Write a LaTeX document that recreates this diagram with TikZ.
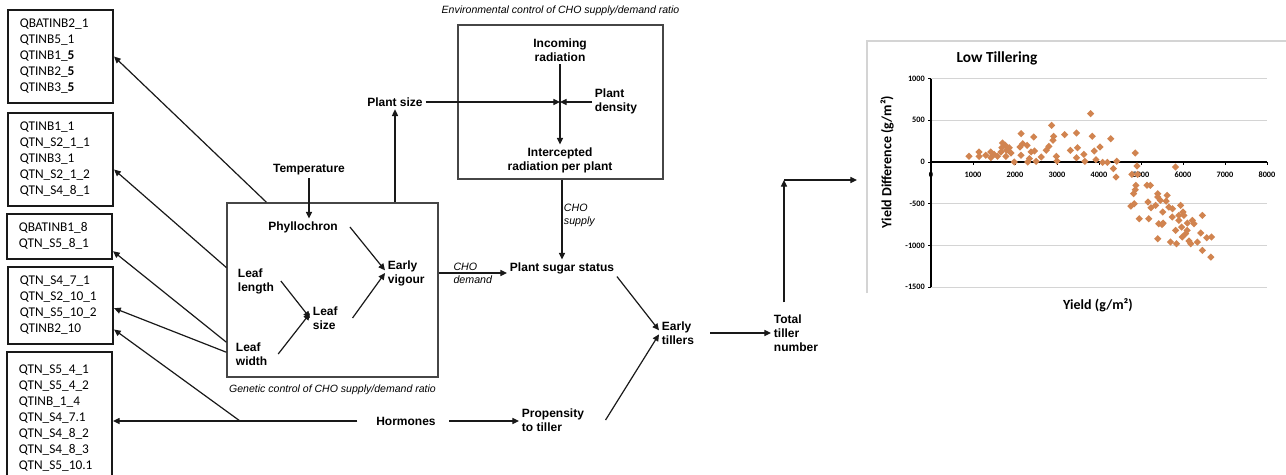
\documentclass[tikz,border=0pt]{standalone}
\usepackage{fontspec}
\setmainfont{Liberation Sans}
\newfontfamily\calibri{Carlito}
\usetikzlibrary{arrows.meta,positioning,shapes.geometric}
\definecolor{ink}{RGB}{25,25,25}
\definecolor{frame}{RGB}{70,70,70}
\definecolor{dotorange}{RGB}{209,132,80}
\definecolor{gridgray}{RGB}{212,212,212}
\tikzset{
  >={Triangle[length=5pt,width=4.6pt]},
  flow/.style={->,line width=0.9pt,draw=ink},
  qtl/.style={draw=ink,line width=1.3pt,anchor=north west,align=left,
    text width=61pt,inner xsep=9pt,inner ysep=5pt,
    font=\calibri\fontsize{10}{12}\selectfont,
    execute at begin node=\strut,execute at end node=\strut},
  panel/.style={draw=frame,line width=1.1pt},
  lbl/.style={font=\fontsize{9}{10.5}\selectfont\bfseries,inner sep=2pt,align=#1},
  lbl/.default=center,
  note/.style={font=\fontsize{8}{9.75}\selectfont\itshape,align=left,inner sep=1pt},
  capline/.style={font=\fontsize{7.9}{9}\selectfont\itshape,inner sep=1pt},
  dpt/.style={diamond,fill=dotorange,inner sep=0pt,minimum size=5.6pt},
  ticklbl/.style={font=\calibri\fontsize{6.2}{7}\selectfont\bfseries,inner sep=1pt},
  axlbl/.style={font=\calibri\fontsize{10.5}{12}\selectfont\bfseries},
}

\begin{document}
\begin{tikzpicture}[x=0.75pt,y=-0.75pt]
  \useasboundingbox (0,0) rectangle (1286,475);
  % QTL lists
  \node[qtl] (q1) at (7,9) {QBATINB2\_1\\QTINB5\_1\\QTINB1\_\textbf{5}\\QTINB2\_\textbf{5}\\QTINB3\_\textbf{5}};
  \node[qtl] (q2) at (7,112) {QTINB1\_1\\QTN\_S2\_1\_1\\QTINB3\_1\\QTN\_S2\_1\_2\\QTN\_S4\_8\_1};
  \node[qtl] (q3) at (6,213) {QBATINB1\_8\\QTN\_S5\_8\_1};
  \node[qtl] (q4) at (7,266) {QTN\_S4\_7\_1\\QTN\_S2\_10\_1\\QTN\_S5\_10\_2\\QTINB2\_10};
  \node[qtl,minimum height=100pt] (q5) at (6,351) {QTN\_S5\_4\_1\\QTN\_S5\_4\_2\\QTINB\_1\_4\\QTN\_S4\_7.1\\QTN\_S4\_8\_2\\QTN\_S4\_8\_3\\QTN\_S5\_10.1};

  \node[panel,minimum width=158pt,minimum height=130.5pt] (genbox) at (332.5,290) {};
  \node[panel,minimum width=153.75pt,minimum height=115.5pt] (envbox) at (560.5,102) {};
  \node[capline,below=4pt of genbox] (gencap) {Genetic control of CHO supply/demand ratio};
  \node[capline,above=5pt of envbox] (envcap) {Environmental control of CHO supply/demand ratio};

  \node[lbl] (temp) at (309,170) {Temperature};
  \node[lbl] (phyl) at (303,227) {Phyllochron};
  \node[lbl=left,anchor=west] (len) at (235,281) {Leaf\\length};
  \node[lbl=left,anchor=west] (wid) at (233,354) {Leaf\\width};
  \node[lbl=left,anchor=west] (lsize) at (310,318) {Leaf\\size};
  \node[lbl=left,anchor=west] (vig) at (385,273) {Early\\vigour};
  \node[lbl] (psize) at (395,102) {Plant size};
  \node[lbl] (inc) at (560,50) {Incoming\\radiation};
  \node[lbl=left,anchor=west] (dens) at (592,101) {Plant\\density};
  \node[lbl] (intc) at (560,160) {Intercepted\\radiation per plant};
  \node[lbl] (sugar) at (562,268) {Plant sugar status};
  \node[lbl=left,anchor=west] (etil) at (659,333) {Early\\tillers};
  \node[lbl=left,anchor=west] (total) at (771,333) {Total\\tiller\\number};
  \node[lbl] (horm) at (406,421) {Hormones};
  \node[lbl=left,anchor=west] (prop) at (519,420) {Propensity\\to tiller};

  \draw[flow] (temp) -- (temp |- phyl.north);
  \draw[flow] ([xshift=3pt]len.east) -- (lsize.west);
  \draw[flow] ([xshift=6pt]wid.east) -- ([yshift=3.5pt]lsize.west);
  \draw[flow] ([xshift=7pt]phyl.east) -- ([yshift=2pt]vig.west);
  \draw[flow] ([xshift=9pt]lsize.east) -- (vig.west);
  \draw[flow] (genbox.north -| psize) -- (psize);
  \coordinate (cross) at (inc |- psize);
  \draw[flow] (psize) -- (cross);
  \draw[flow] (dens.west |- cross) -- (cross);
  \draw[flow] (inc) -- (intc);
  \draw[flow] (envbox.south -| sugar) -- (sugar) node[note,pos=0.45,right] {CHO\\supply};
  \draw[flow] (genbox.east |- vig) -- (vig -| sugar.west) node[note,midway] {CHO\\demand};
  \draw[flow] (sugar.south east) -- ([yshift=2pt]etil.west);
  \draw[flow] ([xshift=14pt]prop.east) -- ([yshift=-1pt]etil.west);
  \draw[flow,shorten <=10pt] (etil) -- (total);
  \coordinate (corner) at (784,180);
  \coordinate (plot) at (857,180);
  \draw[flow,shorten <=7pt] (corner |- total.north) -- (corner);
  \draw[flow] (corner) -- (plot);

  \draw[flow,shorten <=12pt] (horm.west) -- (q5.east |- horm);
  \coordinate (hb) at (240,421);
  \draw[flow] (hb) -- ([yshift=-18pt]q4.east);
  \draw[flow,shorten <=8pt] (horm.east) -- (prop.west |- horm);

  \draw[flow] ([xshift=30pt]genbox.north west) -- (q1.east);
  \draw[flow] ([yshift=-49pt]genbox.north west) -- ([yshift=-7.5pt]q2.east);
  \draw[flow] ([yshift=-105pt]genbox.north west) -- ([yshift=-11pt]q3.east);
  \draw[flow] ([yshift=-112.5pt]genbox.north west) -- ([yshift=-2pt]q4.east);

  % yield chart
  \draw[gridgray,line width=0.8pt] (867,293) -- (867,41) -- (1286,41);
  \begin{scope}[shift={(931,162)},x=0.0315pt,y=0.06255pt]
    \foreach \v in {1000,500,-500,-1000,-1500}
      \draw[gridgray,line width=0.7pt] (0,\v) -- (8000,\v);
    \foreach \v in {1000,500,0,-500,-1000,-1500} {
      \draw[black,line width=0.6pt] (0,\v) -- (-60,\v);
      \node[ticklbl,anchor=east] at (-110,\v) {\v};
    }
    \foreach \v in {0,1000,...,8000} {
      \draw[black,line width=0.6pt] (\v,0) -- (\v,-30);
      \node[ticklbl] at (\v,-156) {\v};
    }
    \draw[black,line width=1.2pt] (0,0) -- (8000,0);
    \draw[black,line width=1.5pt] (0,-1500) -- (0,1000);
    \foreach \a/\b [count=\k] in {
      904/68,1144/120,1144/68,1304/80,1424/120,1424/52,1504/92,1584/68,1664/120,
      1688/172,1704/228,1768/200,1800/140,1784/68,1864/172,1904/108,1984/0,
      2120/180,2144/340,2144/80,2184/220,2288/200,2304/0,2344/40,2384/120,
      2448/300,2464/132,2504/8,2624/60,2744/140,2808/188,2872/440,2920/308,
      2904/260,2984/68,3000/12,3184/328,3320/140,3464/348,3488/172,3464/52,
      3640/92,3664/8,3800/580,3840/308,3888/132,3928/28,4024/180,4088/-4,
      4200/-4,4280/280,4344/-80,4408/-180,4424/8,
      4864/108,4904/-48,4920/-148,4784/-148,4880/-280,4864/-332,4824/-380,
      4840/-500,4760/-528,4960/-680,5144/-280,5224/-280,5168/-480,5240/-548,
      5184/-680,5400/-380,5400/-420,5464/-460,5424/-740,5400/-920,5520/-600,
      5528/-732,5624/-400,5664/-540,5704/-960,5744/-660,5824/-60,5824/-820,
      5848/-980,5904/-640,5944/-520,5968/-780,5984/-900,6024/-640,6064/-860,
      6104/-732,6144/-948,6184/-980,6224/-700,6264/-740,6344/-960,6424/-852,
      6464/-640,6464/-1060,6568/-908,6664/-1140,6680/-900,5600/-470,5750/-560,
      5900/-700,6000/-600,6100/-820,5500/-750,5350/-520}
      \node[dpt] (d\k) at (\a,\b) {};
    \node[font=\calibri\fontsize{11.5}{13}\selectfont\bfseries,anchor=west] (title) at (500,1247) {Low Tillering};
    \node[axlbl,rotate=90] (ylab) at (-1048,0) {Yield Difference (g/m²)};
    \node[axlbl] (xlab) at (3976,-1715) {Yield (g/m²)};
  \end{scope}
\end{tikzpicture}
\end{document}
